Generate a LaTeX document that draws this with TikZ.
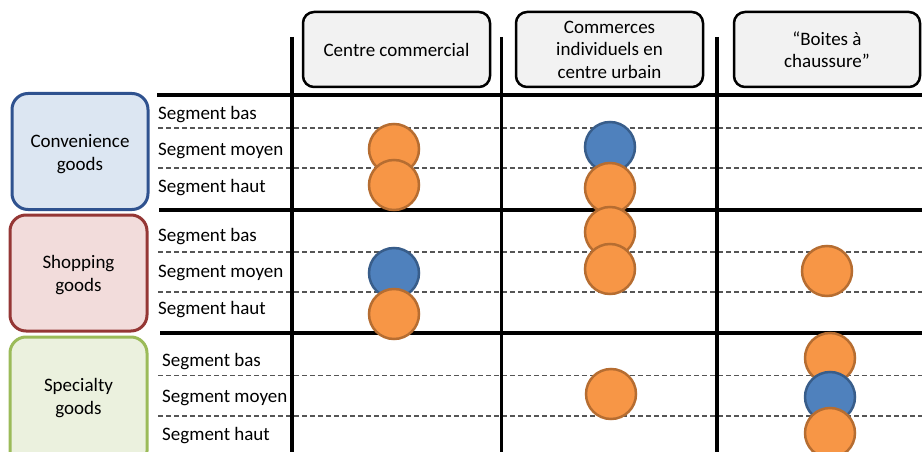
\documentclass[tikz,border=0pt]{standalone}
\usepackage{fontspec}
\setmainfont{Carlito}
\definecolor{orfill}{HTML}{F79646}
\definecolor{ordraw}{HTML}{B66D31}
\definecolor{blfill}{HTML}{4F81BD}
\definecolor{bldraw}{HTML}{385D8A}
\definecolor{hdrfill}{HTML}{F2F2F2}
\definecolor{convfill}{HTML}{DCE6F2}
\definecolor{convdraw}{HTML}{2F528F}
\definecolor{shopfill}{HTML}{F2DCDB}
\definecolor{shopdraw}{HTML}{953735}
\definecolor{specfill}{HTML}{EBF1DE}
\definecolor{specdraw}{HTML}{9BBB59}
\definecolor{dashgray}{HTML}{555555}
\begin{document}
\begin{tikzpicture}[x=1pt,y=-1pt,
  every node/.style={font=\fontsize{19}{22.5}\selectfont},
  hdr/.style={draw=black,fill=hdrfill,line width=2.5pt,rounded corners=11pt,align=center,inner sep=0pt},
  rowbox/.style={line width=3pt,rounded corners=16pt,align=center,inner sep=0pt},
  seglab/.style={anchor=west,inner sep=0pt},
  thick line/.style={line width=3.8pt,black},
  dline/.style={dashgray,line width=1.1pt,dash pattern=on 5pt off 3pt},
  dot/.style={circle,minimum size=50pt,inner sep=0pt,line width=2.5pt},
  odot/.style={dot,fill=orfill,draw=ordraw},
  bdot/.style={dot,fill=blfill,draw=bldraw}]
\useasboundingbox (0,0) rectangle (922,452);
\clip (0,0) rectangle (922,452);
% headers
\node[hdr,minimum width=187pt,minimum height=75pt] (h1) at (396.5,49.5) {Centre commercial};
\node[hdr,minimum width=187pt,minimum height=75pt] (h2) at (609.5,49.5) {Commerces\\individuels en\\centre urbain};
\node[hdr,minimum width=186pt,minimum height=75pt] (h3) at (827,49.5) {“Boites à\\chaussure”};
% row boxes
\node[rowbox,draw=convdraw,fill=convfill,minimum width=136pt,minimum height=116pt] (conv) at (80,151.5) {};
\node[align=center] (convt) at (80,154) {Convenience\\goods};
\node[rowbox,draw=shopdraw,fill=shopfill,minimum width=137pt,minimum height=116pt] (shop) at (78.5,273) {};
\node[align=center] (shopt) at (78.5,275) {Shopping\\goods};
\node[rowbox,draw=specdraw,fill=specfill,minimum width=137pt,minimum height=130pt] (spec) at (78.5,402) {};
\node[align=center] (spect) at (78.5,398) {Specialty\\goods};
% dashed lines
\foreach \y in {128,168,252,292,375.5,416} \draw[dline] (158,\y) -- (922,\y);
% thick lines
\draw[thick line] (157,95) -- (922,95);
\draw[thick line] (159,210) -- (922,210);
\draw[thick line] (160,333) -- (922,333);
\foreach \x in {292,501.5,717} \draw[thick line] (\x,37) -- (\x,460);
% segment labels
\node[seglab] (s1) at (158,115) {Segment bas};
\node[seglab] (s2) at (158,151) {Segment moyen};
\node[seglab] (s3) at (158,188) {Segment haut};
\node[seglab] (s4) at (158,237) {Segment bas};
\node[seglab] (s5) at (158,273) {Segment moyen};
\node[seglab] (s6) at (158,310) {Segment haut};
\node[seglab] (s7) at (162,362) {Segment bas};
\node[seglab] (s8) at (162,398) {Segment moyen};
\node[seglab] (s9) at (162,436) {Segment haut};
% circles column 1
\node[odot] (c1) at (394,149) {};
\node[odot] (c2) at (394,185) {};
\node[bdot] (c3) at (394,273) {};
\node[odot] (c4) at (394,314) {};
% column 2
\node[bdot] (d1) at (610,147) {};
\node[odot] (d2) at (610,188) {};
\node[odot] (d3) at (610,232) {};
\node[odot] (d4) at (610,269) {};
\node[odot] (d5) at (611,394) {};
% column 3
\node[odot] (e1) at (827,271) {};
\node[odot] (e2) at (830,358) {};
\node[bdot] (e3) at (830,397) {};
\node[odot] (e4) at (830,433) {};
\end{tikzpicture}
\end{document}
